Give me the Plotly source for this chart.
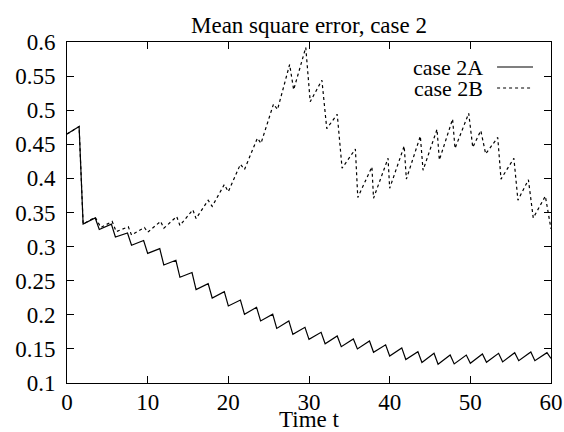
import plotly.graph_objects as go

# ---- data ----
t_2a = [0, 1.5, 2, 3.5, 4, 5.5, 6, 7.5, 8, 9.5, 10, 11.5, 12, 13.5, 14, 15.5, 16,
        17.5, 18, 19.5, 20, 21.5, 22, 23.5, 24, 25.5, 26, 27.5, 28, 29.5, 30,
        31.5, 32, 33.5, 34, 35.5, 36, 37.5, 38, 39.5, 40, 41.5, 42, 43.5, 44,
        45.5, 46, 47.5, 48, 49.5, 50, 51.5, 52, 53.5, 54, 55.5, 56, 57.5, 58,
        59.5, 60]
mse_2a = [0.465, 0.476, 0.333, 0.342, 0.325, 0.333, 0.314, 0.320, 0.302, 0.309,
          0.290, 0.297, 0.273, 0.280, 0.255, 0.262, 0.237, 0.2456, 0.2246, 0.234,
          0.213, 0.2217, 0.2007, 0.211, 0.191, 0.201, 0.180, 0.191, 0.1714, 0.1817,
          0.164, 0.1743, 0.1576, 0.169, 0.1532, 0.1645, 0.150, 0.1616, 0.145, 0.156,
          0.1396, 0.1515, 0.1345, 0.146, 0.130, 0.1435, 0.1274, 0.141, 0.128, 0.141,
          0.129, 0.1425, 0.1303, 0.1435, 0.131, 0.1445, 0.1327, 0.1455, 0.1327,
          0.1445, 0.136]

t_2b = [0, 1.5, 2, 3.5, 4.2, 5.6, 6.1, 7.6, 8.0, 9.6, 10.0, 11.6, 12.0, 13.6, 14.0,
        15.6, 16.0, 17.5, 18.0, 19.5, 20.0, 21.5, 22.0, 23.6, 24.05, 25.6, 26.1,
        27.6, 28.1, 29.6, 30.15, 31.6, 32.2, 33.5, 34.1, 35.75, 36.05, 37.8, 38.0,
        39.8, 40.0, 41.8, 42.07, 43.8, 44.14, 45.87, 46.16, 47.8, 48.1, 49.8, 50.3,
        51.3, 51.9, 53.4, 53.8, 55.4, 55.9, 57.2, 57.8, 59.3, 60]
mse_2b = [0.465, 0.476, 0.333, 0.343, 0.328, 0.337, 0.322, 0.329, 0.317, 0.328,
          0.321, 0.337, 0.327, 0.344, 0.331, 0.354, 0.341, 0.368, 0.359, 0.391,
          0.3805, 0.4207, 0.413, 0.459, 0.4515, 0.509, 0.501, 0.567, 0.530, 0.592,
          0.5125, 0.544, 0.473, 0.494, 0.415, 0.443, 0.372, 0.417, 0.371, 0.4295,
          0.3855, 0.4475, 0.399, 0.462, 0.412, 0.472, 0.427, 0.487, 0.444, 0.4955,
          0.4456, 0.470, 0.436, 0.460, 0.399, 0.4295, 0.368, 0.398, 0.342, 0.374,
          0.326]

series_names = ["case 2A", "case 2B"]
x_ticks = [0, 10, 20, 30, 40, 50, 60]
x_tick_labels = ["0", "10", "20", "30", "40", "50", "60"]
y_ticks = [0.1, 0.15, 0.2, 0.25, 0.3, 0.35, 0.4, 0.45, 0.5, 0.55, 0.6]
y_tick_labels = ["0.1", "0.15", "0.2", "0.25", "0.3", "0.35", "0.4", "0.45",
                 "0.5", "0.55", "0.6"]

FONT = "Liberation Serif"
FS = 23
W, H = 564, 432
L, R, T, B = 66.5, 13, 42, 49

fig = go.Figure()
fig.add_trace(go.Scatter(x=t_2a, y=mse_2a, mode="lines", name=series_names[0],
                         line=dict(color="black", width=1.2, dash="solid")))
fig.add_trace(go.Scatter(x=t_2b, y=mse_2b, mode="lines", name=series_names[1],
                         line=dict(color="black", width=1.2, dash="dot")))

axis_common = dict(showline=True, linecolor="black", linewidth=1, mirror="ticks",
                   ticks="inside", ticklen=7, tickcolor="black", tickwidth=1,
                   showgrid=False, zeroline=False, automargin=False,
                   tickfont=dict(family=FONT, size=FS, color="black"))
fig.update_xaxes(range=[0, 60], tickvals=x_ticks, ticktext=x_tick_labels,
                 ticklabelstandoff=-2, **axis_common)
fig.update_yaxes(range=[0.1, 0.6], tickvals=y_ticks, ticktext=y_tick_labels,
                 ticklabelstandoff=6, **axis_common)

pw = W - L - R
ph = H - T - B
def px_to_paper_x(px):
    return (px - L) / pw
def px_to_paper_y(py):
    return (H - B - py) / ph

annotations = [
    dict(text="Time t", xref="paper", yref="paper", x=0.5, y=px_to_paper_y(420),
         xanchor="center", yanchor="middle", showarrow=False,
         font=dict(family=FONT, size=FS, color="black")),
]
shapes = []
legend_y = [67, 88]
legend_dash = ["solid", "dot"]
for name, ly, dash in zip(series_names, legend_y, legend_dash):
    annotations.append(dict(text=name, xref="paper", yref="paper",
                            x=px_to_paper_x(485), y=px_to_paper_y(ly),
                            xanchor="right", yanchor="middle", showarrow=False,
                            font=dict(family=FONT, size=22, color="black")))
    shapes.append(dict(type="line", xref="paper", yref="paper",
                       x0=px_to_paper_x(497), x1=px_to_paper_x(533),
                       y0=px_to_paper_y(ly), y1=px_to_paper_y(ly),
                       line=dict(color="black", width=1.2, dash=dash)))

fig.update_layout(
    template="none",
    width=W, height=H,
    margin=dict(l=L, r=R, t=T, b=B, pad=0),
    paper_bgcolor="white", plot_bgcolor="white",
    showlegend=False,
    title=dict(text="Mean square error, case 2", x=0.5,
               xref="paper", xanchor="center", y=1 - 25 / H, yref="container",
               yanchor="middle",
               font=dict(family=FONT, size=FS, color="black")),
    annotations=annotations,
    shapes=shapes,
)

fig.write_html("out.html", config={"displayModeBar": False},
               post_script="document.body.style.margin='0';document.body.style.overflow='hidden';")
